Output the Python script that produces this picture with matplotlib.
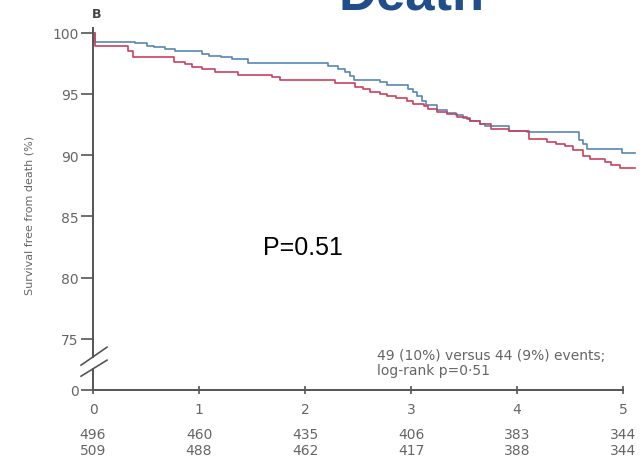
import numpy as np
import matplotlib
matplotlib.use('Agg')
import matplotlib.pyplot as plt

# Kaplan-Meier steps (years, % surviving)
blue_t = [0, 0.02, 0.40, 0.51, 0.58, 0.68, 0.77, 1.03, 1.09, 1.21, 1.31, 1.46,
          2.22, 2.31, 2.38, 2.42, 2.46, 2.71, 2.77, 2.97, 3.02, 3.06, 3.10, 3.14,
          3.24, 3.34, 3.42, 3.49, 3.56, 3.65, 3.70, 3.92, 4.09, 4.58, 4.62, 4.66,
          4.99, 5.11]
blue_s = [100, 99.2, 99.12, 98.92, 98.79, 98.65, 98.51, 98.24, 98.11, 97.98, 97.84, 97.50,
          97.24, 97.02, 96.75, 96.42, 96.15, 95.93, 95.71, 95.39, 95.14, 94.82, 94.43, 94.08,
          93.67, 93.43, 93.27, 93.02, 92.80, 92.53, 92.39, 92.0, 91.85, 91.2, 90.9, 90.5,
          90.15, 90.15]

red_t = [0, 0.02, 0.33, 0.38, 0.76, 0.87, 0.93, 1.03, 1.15, 1.37, 1.69, 1.76,
         2.28, 2.47, 2.55, 2.61, 2.71, 2.77, 2.86, 2.96, 3.02, 3.12, 3.16, 3.24,
         3.34, 3.43, 3.53, 3.56, 3.65, 3.75, 3.92, 4.11, 4.28, 4.37, 4.45, 4.53,
         4.62, 4.69, 4.83, 4.89, 4.97, 5.11]
red_s = [100, 98.92, 98.49, 97.98, 97.57, 97.43, 97.21, 97.02, 96.75, 96.56, 96.34, 96.12,
         95.85, 95.53, 95.39, 95.17, 94.98, 94.84, 94.63, 94.43, 94.16, 94.02, 93.76, 93.49,
         93.35, 93.08, 92.94, 92.80, 92.53, 92.1, 91.93, 91.31, 91.09, 90.9, 90.71, 90.43,
         89.94, 89.67, 89.40, 89.18, 88.94, 88.94]

years = [0, 1, 2, 3, 4, 5]
at_risk_blue = [496, 460, 435, 406, 383, 344]
at_risk_red = [509, 488, 462, 417, 388, 344]

y_zero = 70.86  # where the broken axis puts 0
ytick_vals = [y_zero, 75, 80, 85, 90, 95, 100]
ytick_labels = ['0', '75', '80', '85', '90', '95', '100']

grey = '#666666'
axis_col = '#555555'

fig = plt.figure(figsize=(6.44, 4.60), dpi=100)
ax = fig.add_axes([93 / 644, 69.3 / 460, 546 / 644, 362.1 / 460])

ax.step(blue_t, blue_s, where='post', color='#5687b3', lw=1.2)
ax.step(red_t, red_s, where='post', color='#c9415f', lw=1.2)

ax.set_xlim(0, 5.15)
ax.set_ylim(y_zero, 100.4)

for side in ['top', 'right', 'left']:
    ax.spines[side].set_visible(False)
ax.spines['bottom'].set_bounds(0, 5)
ax.spines['bottom'].set_color(axis_col)
ax.spines['bottom'].set_linewidth(1.4)

# left axis drawn by hand so it can carry the break marks
ax.plot([0, 0], [y_zero, 72.56], color=axis_col, lw=1.4, clip_on=False)
ax.plot([0, 0], [73.54, 100.4], color=axis_col, lw=1.4, clip_on=False)
ax.plot([-0.113, 0.132], [72.86, 74.33], color=axis_col, lw=1.2, clip_on=False)
ax.plot([-0.113, 0.132], [71.96, 73.27], color=axis_col, lw=1.2, clip_on=False)

ax.set_yticks(ytick_vals)
ax.set_yticklabels(ytick_labels)
ax.tick_params(axis='y', direction='out', length=9, width=1.2, color=axis_col,
               labelcolor=grey, labelsize=10, pad=1.5)
ax.set_xticks(years)
ax.set_xticklabels([str(y) for y in years])
ax.tick_params(axis='x', direction='inout', length=6, width=1.2, color=axis_col,
               labelcolor=grey, labelsize=10, pad=5.5)

for x, a, b in zip(years, at_risk_blue, at_risk_red):
    ax.text(x, -0.1223, str(a), transform=ax.get_xaxis_transform(),
            ha='center', va='center', fontsize=10, color=grey)
    ax.text(x, -0.1665, str(b), transform=ax.get_xaxis_transform(),
            ha='center', va='center', fontsize=10, color=grey)

fig.text(377 / 644, 1 - 356 / 460, '49 (10%) versus 44 (9%) events;',
         ha='left', va='center', fontsize=10, color=grey)
fig.text(377 / 644, 1 - 371 / 460, 'log-rank p=0·51',
         ha='left', va='center', fontsize=10, color=grey)

fig.text(30 / 644, 1 - 215 / 460, 'Survival free from death (%)', rotation=90,
         ha='center', va='center', fontsize=8, color=grey)

fig.text(97 / 644, 1 - 14 / 460, 'B', ha='center', va='center',
         fontsize=9, fontweight='bold', color='#444444')

fig.text(338 / 644, 1 - 9 / 460, 'Death', ha='left', va='baseline',
         fontsize=38, fontweight='bold', color='#1f4e8a', family='Liberation Sans')

fig.text(263 / 644, 1 - 248 / 460, 'P=0.51', ha='left', va='center',
         fontsize=18, color='black', family='Liberation Sans')

plt.savefig('out.png', dpi=100)
plt.close()
